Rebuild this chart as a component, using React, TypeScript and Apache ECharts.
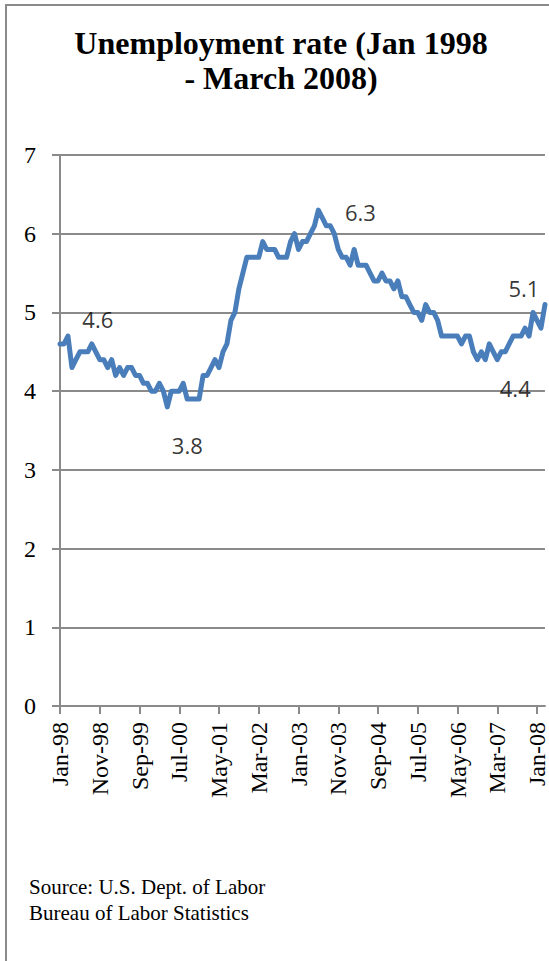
import React, { useEffect, useRef } from "react";
import * as echarts from "echarts";

// ---- data ----
const monthNames = ["Jan", "Feb", "Mar", "Apr", "May", "Jun", "Jul", "Aug", "Sep", "Oct", "Nov", "Dec"];
const years = [1998, 1999, 2000, 2001, 2002, 2003, 2004, 2005, 2006, 2007, 2008];

const rates1998 = [4.6, 4.6, 4.7, 4.3, 4.4, 4.5, 4.5, 4.5, 4.6, 4.5, 4.4, 4.4];
const rates1999 = [4.3, 4.4, 4.2, 4.3, 4.2, 4.3, 4.3, 4.2, 4.2, 4.1, 4.1, 4.0];
const rates2000 = [4.0, 4.1, 4.0, 3.8, 4.0, 4.0, 4.0, 4.1, 3.9, 3.9, 3.9, 3.9];
const rates2001 = [4.2, 4.2, 4.3, 4.4, 4.3, 4.5, 4.6, 4.9, 5.0, 5.3, 5.5, 5.7];
const rates2002 = [5.7, 5.7, 5.7, 5.9, 5.8, 5.8, 5.8, 5.7, 5.7, 5.7, 5.9, 6.0];
const rates2003 = [5.8, 5.9, 5.9, 6.0, 6.1, 6.3, 6.2, 6.1, 6.1, 6.0, 5.8, 5.7];
const rates2004 = [5.7, 5.6, 5.8, 5.6, 5.6, 5.6, 5.5, 5.4, 5.4, 5.5, 5.4, 5.4];
const rates2005 = [5.3, 5.4, 5.2, 5.2, 5.1, 5.0, 5.0, 4.9, 5.1, 5.0, 5.0, 4.9];
const rates2006 = [4.7, 4.7, 4.7, 4.7, 4.7, 4.6, 4.7, 4.7, 4.5, 4.4, 4.5, 4.4];
const rates2007 = [4.6, 4.5, 4.4, 4.5, 4.5, 4.6, 4.7, 4.7, 4.7, 4.8, 4.7, 5.0];
const rates2008 = [4.9, 4.8, 5.1];

const rates = [
  ...rates1998, ...rates1999, ...rates2000, ...rates2001, ...rates2002, ...rates2003,
  ...rates2004, ...rates2005, ...rates2006, ...rates2007, ...rates2008,
];

const categories = rates.map(
  (_, i) => `${monthNames[i % 12]}-${String(years[Math.floor(i / 12)]).slice(2)}`
);

const yMin = 0;
const yMax = 7;
const yStep = 1;

// months whose values carry a data label
const labelledMonths = [8, 27, 65, 122, 110];

const titleLines = ["Unemployment rate (Jan 1998", "- March 2008)"];
const sourceLines = ["Source: U.S. Dept. of Labor", "Bureau of Labor Statistics"];

// ---- styling ----
const labelOffsets: Record<number, [number, number]> = {
  8: [6, -25],
  27: [20, 38],
  65: [42, 2],
  122: [-21, -17],
  110: [18, 28],
};

const GREY = "#8a8a8a";
const SERIF = '"Liberation Serif", "Times New Roman", serif';

export default function App() {
  const ref = useRef<HTMLDivElement>(null);

  useEffect(() => {
    if (!ref.current) return;
    const chart = echarts.init(ref.current, null, { renderer: "svg" });

    const labelData = labelledMonths.map((i) => ({
      value: [i, rates[i]],
      label: {
        show: true,
        position: "inside",
        offset: labelOffsets[i],
        formatter: () => rates[i].toFixed(1),
      },
    }));

    chart.setOption({
      animation: false,
      backgroundColor: "#ffffff",
      grid: { left: 60, right: 1, top: 155, bottom: 255, containLabel: false },
      xAxis: {
        type: "category",
        data: categories,
        boundaryGap: false,
        axisLine: { show: true, lineStyle: { color: GREY, width: 2 } },
        axisTick: { show: true, interval: 9, length: 8, lineStyle: { color: GREY, width: 2 } },
        axisLabel: {
          interval: 9,
          rotate: 90,
          margin: 16,
          color: "#000",
          fontFamily: SERIF,
          fontSize: 24,
        },
        splitLine: { show: false },
      },
      yAxis: {
        type: "value",
        min: yMin,
        max: yMax,
        interval: yStep,
        axisLine: { show: true, lineStyle: { color: GREY, width: 2 } },
        axisTick: { show: true, length: 8, lineStyle: { color: GREY, width: 2 } },
        axisLabel: { margin: 24, color: "#000", fontFamily: SERIF, fontSize: 24 },
        splitLine: { show: true, lineStyle: { color: GREY, width: 2 } },
      },
      series: [
        {
          type: "line",
          data: rates,
          symbol: "none",
          lineStyle: { color: "#4a7ebb", width: 5, join: "round", cap: "round" },
          z: 3,
        },
        {
          type: "scatter",
          data: labelData,
          symbolSize: 1,
          itemStyle: { color: "rgba(0,0,0,0)" },
          label: {
            color: "#000",
            fontFamily: '"Open Sans", "DejaVu Sans", sans-serif',
            fontSize: 22,
          },
          z: 4,
        },
      ],
      graphic: [
        {
          type: "rect",
          shape: { x: 6, y: 5, width: 700, height: 1100 },
          style: { fill: "none", stroke: GREY, lineWidth: 2 },
          silent: true,
        },
        ...titleLines.map((t, k) => ({
          type: "text",
          x: 281,
          y: 27 + k * 35,
          style: {
            text: t,
            font: `bold 32px ${SERIF}`,
            fill: "#000",
            textAlign: "center",
            verticalAlign: "top",
          },
        })),
        ...sourceLines.map((t, k) => ({
          type: "text",
          x: 29,
          y: 876 + k * 26,
          style: {
            text: t,
            font: `21px ${SERIF}`,
            fill: "#000",
            textAlign: "left",
            verticalAlign: "top",
          },
        })),
      ],
    });

    return () => chart.dispose();
  }, []);

  return (
    <div
      ref={ref}
      style={{ position: "absolute", left: 0, top: 0, width: 549, height: 961, background: "#fff" }}
    />
  );
}
